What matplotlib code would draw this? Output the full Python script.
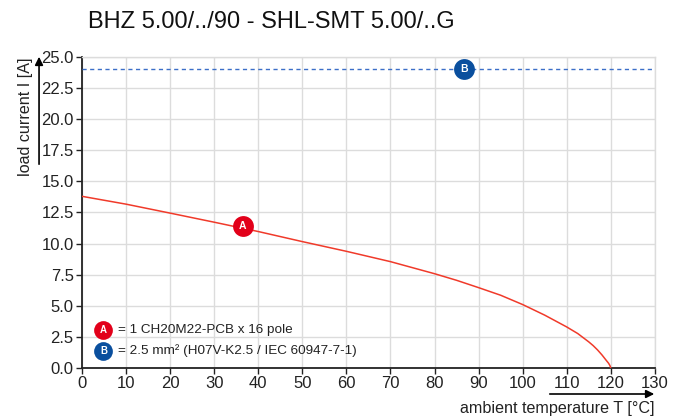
import matplotlib
matplotlib.use('Agg')
import matplotlib.pyplot as plt
import numpy as np

plt.rcParams['font.family'] = ['Liberation Sans', 'DejaVu Sans']

# ===== data =====
temp = [0, 10, 20, 30, 40, 50, 60, 70, 80, 85, 90, 95, 100, 105, 110, 112.5,
        115, 116, 117, 118, 119, 119.5, 119.8, 120]
current = [13.8, 13.17, 12.45, 11.72, 10.97, 10.16, 9.38, 8.55, 7.58, 7.05, 6.46, 5.85,
           5.1, 4.25, 3.3, 2.77, 2.1, 1.8, 1.45, 1.05, 0.6, 0.38, 0.2, 0.0]
b_level = 24.0
marker_a = (36.5, 11.4)
marker_b = (86.7, 24.0)
x_ticks = np.arange(0, 131, 10)
y_ticks = np.arange(0, 25.1, 2.5)
title = 'BHZ 5.00/../90 - SHL-SMT 5.00/..G'
legend_a = '= 1 CH20M22-PCB x 16 pole'
legend_b = '= 2.5 mm² (H07V-K2.5 / IEC 60947-7-1)'

RED = '#e2001a'
BLUE = '#0a4f9e'
GRID = '#dcdcdc'
DARK = '#222222'

fig = plt.figure(figsize=(6.85, 4.19), dpi=100)
ax = fig.add_axes([0.1197, 0.1217, 0.8363, 0.7423])

ax.plot(temp, current, color='#f03a2a', linewidth=1.1, zorder=3)
ax.axhline(b_level, color='#3c6fc8', linewidth=1.0, linestyle=(0, (3, 2.5)), zorder=3)

def badge(x, y, letter, color):
    ax.plot(x, y, 'o', markersize=15, color=color, markeredgewidth=0, zorder=5)
    ax.text(x, y, letter, color='white', fontsize=7.5, fontweight='bold',
            ha='center', va='center', zorder=6)

badge(*marker_a, 'A', RED)
badge(*marker_b, 'B', BLUE)

ax.set_xlim(0, 130)
ax.set_ylim(0, 25)
ax.set_xticks(x_ticks)
ax.set_yticks(y_ticks)
ax.set_yticklabels([f'{v:.1f}' for v in y_ticks])
ax.tick_params(labelsize=12, length=4, width=1, color=DARK, pad=2, labelcolor=DARK)
ax.grid(True, color=GRID, linewidth=1.0)
ax.set_axisbelow(True)
for s in ['top', 'right']:
    ax.spines[s].set_color(GRID)
    ax.spines[s].set_linewidth(1.0)
for s in ['left', 'bottom']:
    ax.spines[s].set_color(DARK)
    ax.spines[s].set_linewidth(1.3)

# legend with badges (axes coordinates)
for i, (letter, color, txt) in enumerate([('A', RED, legend_a), ('B', BLUE, legend_b)]):
    yy = 0.122 - i * 0.0675
    ax.plot(0.0375, yy, 'o', markersize=13.5, color=color, markeredgewidth=0,
            transform=ax.transAxes, zorder=5, clip_on=False)
    ax.text(0.0375, yy, letter, color='white', fontsize=7, fontweight='bold',
            ha='center', va='center', transform=ax.transAxes, zorder=6)
    ax.text(0.062, yy, txt, fontsize=9.7, color=DARK, ha='left', va='center',
            transform=ax.transAxes)

fig.text(0.128, 0.947, title, fontsize=17, ha='left', va='center', color='#111111')

# axis labels with arrows
fig.text(0.0365, 0.721, 'load current I [A]', rotation=90, fontsize=11.6,
         ha='center', va='center', color=DARK)
fig.add_artist(matplotlib.patches.FancyArrowPatch(
    (0.057, 1 - 167 / 419), (0.057, 1 - 54 / 419), transform=fig.transFigure,
    arrowstyle='-|>', mutation_scale=12, color='black', linewidth=1.2))

fig.text(0.956, 1 - 408 / 419, 'ambient temperature T [°C]', fontsize=11.6,
         ha='right', va='center', color=DARK)
fig.add_artist(matplotlib.patches.FancyArrowPatch(
    (547 / 685, 1 - 394 / 419), (657 / 685, 1 - 394 / 419), transform=fig.transFigure,
    arrowstyle='-|>', mutation_scale=12, color='black', linewidth=1.2))

fig.savefig('out.png', dpi=100, facecolor='white')
